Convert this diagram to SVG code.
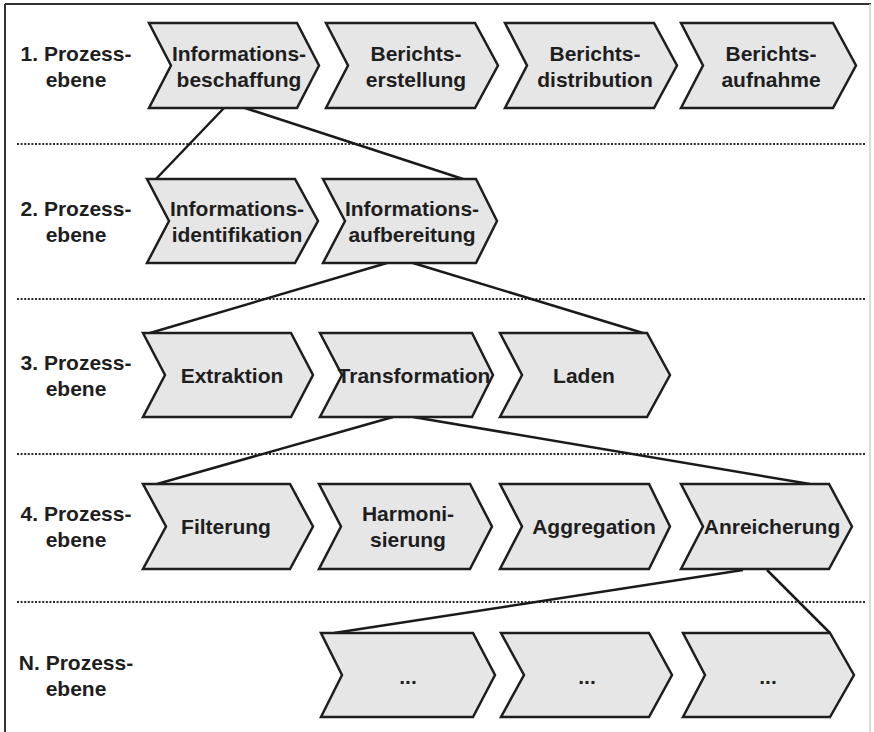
<svg xmlns="http://www.w3.org/2000/svg" width="874" height="732" viewBox="0 0 874 732">
<style>
.chev{fill:#e6e6e6;stroke:#1e1e1e;stroke-width:2.5;stroke-linejoin:miter}
.t{font-family:"Liberation Sans",Arial,Helvetica,sans-serif;font-weight:bold;font-size:21px;fill:#1e1e1e;text-anchor:middle}
.dot{stroke:#2a2a2a;stroke-width:2.2;stroke-dasharray:2 1.6;fill:none}
.con{stroke:#1a1a1a;stroke-width:2.5;fill:none}
</style>
<rect x="0" y="0" width="874" height="732" fill="#ffffff"/>
<g id="frame">
<line x1="5" y1="4" x2="871" y2="4" stroke="#333" stroke-width="2"/>
<line x1="5" y1="4" x2="5" y2="732" stroke="#333" stroke-width="2"/>
<line x1="870" y1="4" x2="870" y2="732" stroke="#cfcfcf" stroke-width="1.5"/>
</g>
<g id="separators">
<line class="dot" x1="17" y1="144" x2="866" y2="144"/>
<line class="dot" x1="17" y1="299" x2="866" y2="299"/>
<line class="dot" x1="17" y1="454" x2="866" y2="454"/>
<line class="dot" x1="17" y1="602" x2="866" y2="602"/>
</g>
<g id="level-labels">
<g id="label1"><text class="t" x="76" y="61">1. Prozess-</text><text class="t" x="76" y="87">ebene</text></g>
<g id="label2"><text class="t" x="76" y="216">2. Prozess-</text><text class="t" x="76" y="242">ebene</text></g>
<g id="label3"><text class="t" x="76" y="370">3. Prozess-</text><text class="t" x="76" y="396">ebene</text></g>
<g id="label4"><text class="t" x="76" y="521">4. Prozess-</text><text class="t" x="76" y="547">ebene</text></g>
<g id="labelN"><text class="t" x="76" y="670">N. Prozess-</text><text class="t" x="76" y="696">ebene</text></g>
</g>
<g id="connectors">
<line class="con" x1="224" y1="108" x2="156" y2="179"/>
<line class="con" x1="245" y1="108" x2="463" y2="179"/>
<line class="con" x1="387" y1="263" x2="150" y2="333"/>
<line class="con" x1="413" y1="263" x2="643" y2="333"/>
<line class="con" x1="393" y1="417" x2="157" y2="484"/>
<line class="con" x1="413" y1="417" x2="810" y2="484"/>
<line class="con" x1="743" y1="570" x2="334" y2="633"/>
<line class="con" x1="767" y1="570" x2="830" y2="633"/>
</g>
<g id="n-informationsbeschaffung">
<polygon class="chev" points="149,23 297,23 319,65.5 297,108 149,108 171,65.5"/>
<text class="t" x="239" y="61">Informations-</text><text class="t" x="239" y="87">beschaffung</text>
</g>
<g id="n-berichtserstellung">
<polygon class="chev" points="326,23 475,23 498,65.5 475,108 326,108 348,65.5"/>
<text class="t" x="416" y="61">Berichts-</text><text class="t" x="416" y="87">erstellung</text>
</g>
<g id="n-berichtsdistribution">
<polygon class="chev" points="505,23 654,23 677,65.5 654,108 505,108 527,65.5"/>
<text class="t" x="595" y="61">Berichts-</text><text class="t" x="595" y="87">distribution</text>
</g>
<g id="n-berichtsaufnahme">
<polygon class="chev" points="681,23 833,23 856,65.5 833,108 681,108 703,65.5"/>
<text class="t" x="771" y="61">Berichts-</text><text class="t" x="771" y="87">aufnahme</text>
</g>
<g id="n-informationsidentifikation">
<polygon class="chev" points="147,179 295,179 318,221 295,263 147,263 169,221"/>
<text class="t" x="237" y="216">Informations-</text><text class="t" x="237" y="242">identifikation</text>
</g>
<g id="n-informationsaufbereitung">
<polygon class="chev" points="323,179 476,179 497,221 476,263 323,263 345,221"/>
<text class="t" x="412" y="216">Informations-</text><text class="t" x="412" y="242">aufbereitung</text>
</g>
<g id="n-extraktion">
<polygon class="chev" points="143,333 291,333 313,375 291,417 143,417 165,375"/>
<text class="t" x="232" y="383">Extraktion</text>
</g>
<g id="n-transformation">
<polygon class="chev" points="320,333 472,333 493,375 472,417 320,417 342,375"/>
<text class="t" x="414" y="383">Transformation</text>
</g>
<g id="n-laden">
<polygon class="chev" points="500,333 647,333 670,375 647,417 500,417 522,375"/>
<text class="t" x="584" y="383">Laden</text>
</g>
<g id="n-filterung">
<polygon class="chev" points="143,484 290,484 313,526.5 290,569 143,569 166,526.5"/>
<text class="t" x="226" y="534">Filterung</text>
</g>
<g id="n-harmonisierung">
<polygon class="chev" points="319,484 470,484 492,526.5 470,569 319,569 341,526.5"/>
<text class="t" x="408" y="521">Harmoni-</text><text class="t" x="408" y="547">sierung</text>
</g>
<g id="n-aggregation">
<polygon class="chev" points="500,484 649,484 670,526.5 649,569 500,569 522,526.5"/>
<text class="t" x="594" y="534">Aggregation</text>
</g>
<g id="n-anreicherung">
<polygon class="chev" points="681,484 829,484 852,526.5 829,569 681,569 703,526.5"/>
<text class="t" x="772" y="534">Anreicherung</text>
</g>
<g id="n-n1">
<polygon class="chev" points="321,633 473,633 495,675 473,717 321,717 342,675"/>
<text class="t" x="408" y="684">...</text>
</g>
<g id="n-n2">
<polygon class="chev" points="501,633 649,633 672,675 649,717 501,717 524,675"/>
<text class="t" x="587" y="684">...</text>
</g>
<g id="n-n3">
<polygon class="chev" points="683,633 830,633 854,675 830,717 683,717 705,675"/>
<text class="t" x="768" y="684">...</text>
</g>
</svg>
